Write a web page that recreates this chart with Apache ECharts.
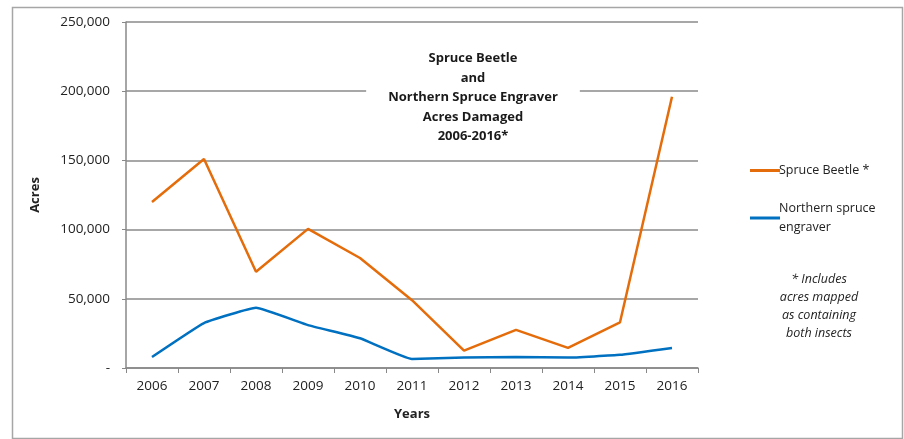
<!DOCTYPE html>
<html>
<head>
<meta charset="utf-8">
<script src="https://cdn.jsdelivr.net/npm/echarts@6/dist/echarts.min.js"></script>
<style>
  html, body { margin: 0; padding: 0; background: #fff; }
  #chart { width: 904px; height: 439px; }
</style>
</head>
<body>
<div id="chart"></div>
<script>
// data
var years = ['2006', '2007', '2008', '2009', '2010', '2011', '2012', '2013', '2014', '2015', '2016'];
var spruceBeetle = [120000, 151000, 69500, 100500, 79500, 49000, 12500, 27500, 14500, 33000, 196000];
var sprucEngraver = [8000, 32500, 43500, 31000, 21500, 6500, 7500, 8000, 7500, 9500, 14500];
var yTicks = [0, 50000, 100000, 150000, 200000, 250000];

var font = '"Open Sans", "Liberation Sans", sans-serif';
var chart = echarts.init(document.getElementById('chart'));

function fmt(v) {
  if (v === 0) return '-';
  return String(v).replace(/\B(?=(\d{3})+(?!\d))/g, ',');
}

var option = {
  backgroundColor: '#fff',
  animation: false,
  color: ['#E46C0A', '#0070C0'],
  title: [
    {
      text: 'Spruce Beetle\nand\nNorthern Spruce Engraver\nAcres Damaged\n2006-2016*',
      left: 451,
      top: 47,
      textAlign: 'center',
      backgroundColor: '#fff',
      padding: [2, 22, 8, 22],
      textStyle: { fontFamily: font, fontSize: 13, fontWeight: 'bold', color: '#1a1a1a', lineHeight: 19.5 }
    },
    {
      text: '* Includes\nacres mapped\nas containing\nboth insects',
      left: 814,
      top: 265,
      textAlign: 'center',
      textStyle: { fontFamily: font, fontSize: 12.5, fontStyle: 'italic', fontWeight: 'normal', color: '#222', lineHeight: 18 }
    }
  ],
  legend: {
    orient: 'vertical',
    left: 745,
    top: 156,
    itemWidth: 30,
    itemHeight: 3,
    itemGap: 19,
    icon: 'rect',
    data: ['Spruce Beetle', 'Northern spruce engraver'],
    formatter: function (name) {
      return name === 'Spruce Beetle' ? 'Spruce Beetle *' : 'Northern spruce\nengraver';
    },
    textStyle: { fontFamily: font, fontSize: 12.5, color: '#222', padding: [0, 0, 0, -6], lineHeight: 19 }
  },
  grid: { left: 126, right: 206, top: 22, bottom: 71 },
  xAxis: {
    type: 'category',
    data: years,
    boundaryGap: true,
    name: 'Years',
    nameLocation: 'middle',
    nameGap: 40,
    nameTextStyle: { fontFamily: font, fontSize: 13, fontWeight: 'bold', color: '#222' },
    axisLine: { lineStyle: { color: '#888', width: 1.5 } },
    axisTick: { show: true, length: 5, lineStyle: { color: '#888' } },
    axisLabel: { fontFamily: font, fontSize: 13.5, color: '#222', margin: 11 }
  },
  yAxis: {
    type: 'value',
    min: 0,
    max: 250000,
    interval: 50000,
    name: 'Acres',
    nameLocation: 'middle',
    nameGap: 84,
    nameTextStyle: { fontFamily: font, fontSize: 13, fontWeight: 'bold', color: '#222' },
    axisLine: { show: true, lineStyle: { color: '#888', width: 1.5 } },
    axisTick: { show: true, length: 4, lineStyle: { color: '#888' } },
    axisLabel: {
      fontFamily: font, fontSize: 13.5, color: '#222', margin: 16,
      formatter: function (v) { return yTicks.indexOf(v) >= 0 ? fmt(v) : ''; }
    },
    splitLine: { show: true, lineStyle: { color: '#8a8a8a', width: 1.5 } }
  },
  series: [
    {
      name: 'Spruce Beetle',
      type: 'line',
      data: spruceBeetle,
      showSymbol: false,
      symbol: 'none',
      lineStyle: { width: 2.5, color: '#E46C0A' },
      z: 3
    },
    {
      name: 'Northern spruce engraver',
      type: 'line',
      data: sprucEngraver,
      smooth: 0.1,
      showSymbol: false,
      symbol: 'none',
      lineStyle: { width: 2.5, color: '#0070C0' },
      z: 3
    }
  ],
  graphic: [
    {
      type: 'rect',
      left: 10,
      top: 5,
      shape: { width: 890, height: 431 },
      style: { fill: 'none', stroke: '#a6a6a6', lineWidth: 1.5 },
      silent: true,
      z: -1
    }
  ]
};

chart.setOption(option);
</script>
</body>
</html>
